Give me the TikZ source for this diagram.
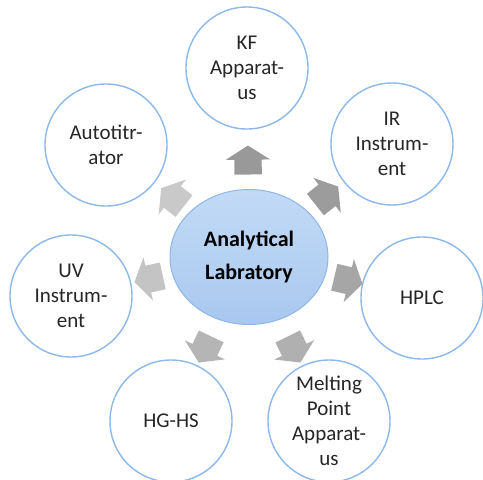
\documentclass[tikz,border=0pt]{standalone}
\usepackage{fontspec}
\setmainfont{Carlito}
\usepackage{xcolor}
\usepackage{tikz}
\usetikzlibrary{positioning, shapes, arrows, calc}

\definecolor{ringblue}{HTML}{8CB8EA}
\definecolor{labtop}{HTML}{C2DAF6}
\definecolor{labbottom}{HTML}{A9C8EF}
\definecolor{labedge}{HTML}{8FB6E6}

\begin{document}
\begin{tikzpicture}[x=1pt, y=-1pt,
    satellite/.style={circle, draw=ringblue, line width=1.4pt, fill=white, minimum size=122pt, inner sep=0pt, align=center, text=black!85, font=\fontsize{21}{25}\selectfont},
    labnode/.style={ellipse, draw=labedge, line width=1pt, top color=labtop, bottom color=labbottom, minimum width=158pt, minimum height=135pt, align=center, font=\bfseries\fontsize{22}{33}\selectfont},
    blockarrow/.style={single arrow, minimum height=29pt, text width=0pt, text height=13.5pt, text depth=13.5pt, single arrow head extend=8.5pt, single arrow tip angle=115, inner sep=0pt, fill=#1}]
    \useasboundingbox (0,0) rectangle (483,480);

    % the lab in the middle
    \node[labnode] (lab) at (249,257) {Analytical\\Labratory};

    % instruments round it
    \node[satellite] (kf) at (247,68) {KF\\Apparat-\\us};
    \node[satellite] (ir) at (392,144) {IR\\Instrum-\\ent};
    \node[satellite] (hplc) at (422,298) {HPLC};
    \node[satellite] (melt) at (329,421) {Melting\\Point\\Apparat-\\us};
    \node[satellite] (hghs) at (171,421) {HG-HS};
    \node[satellite] (uv) at (71,296) {UV\\Instrum-\\ent};
    \node[satellite] (auto) at (106,145) {Autotitr-\\ator};

    % block arrows pointing out
    \foreach \target/\where/\shade in {kf/0.49/gray!80, ir/0.52/gray!78, hplc/0.55/gray!70, melt/0.54/gray!62, hghs/0.54/gray!58, uv/0.54/gray!46, auto/0.51/gray!42}
      \path (lab.center) -- node[blockarrow=\shade, pos=\where, sloped, allow upside down] (arr-\target) {} (\target.center);
\end{tikzpicture}
\end{document}
